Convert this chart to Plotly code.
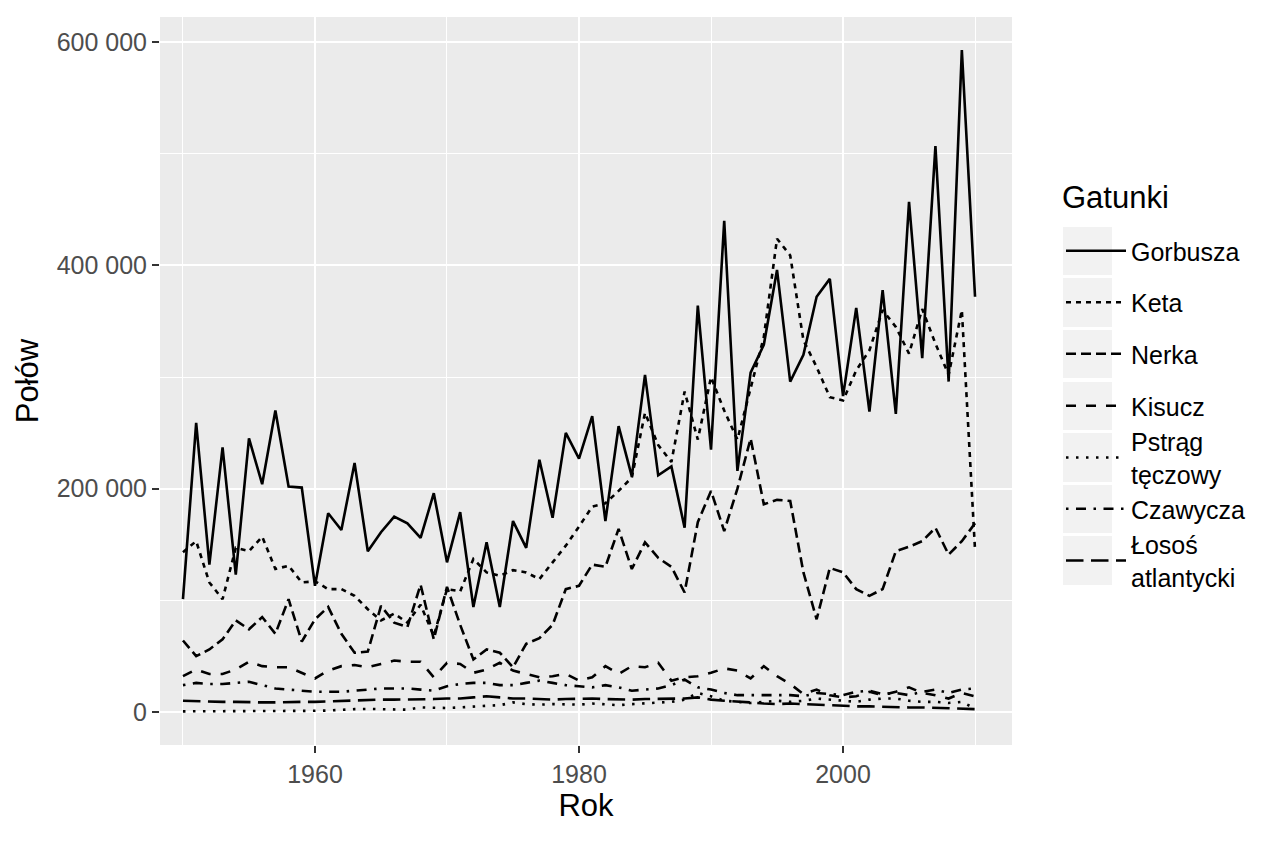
import plotly.graph_objects as go

# Połów łososi (tys. sztuk), lata 1950-2010
lata = list(range(1950, 2011))

gorbusza = [101, 259, 132, 237, 123, 245, 204, 270, 202, 201,
            113, 178, 163, 223, 144, 161, 175, 169, 156, 196,
            134, 179, 94, 152, 94, 171, 147, 226, 174, 250,
            227, 265, 171, 256, 211, 302, 212, 220, 165, 364,
            235, 440, 216, 304, 329, 396, 296, 320, 372, 388,
            283, 362, 269, 378, 267, 457, 317, 507, 296, 593, 372]
keta = [143, 153, 116, 101, 147, 144, 157, 128, 131, 116,
        117, 110, 110, 104, 92, 82, 88, 80, 96, 68,
        110, 108, 137, 125, 122, 127, 125, 119, 134, 149,
        166, 184, 187, 198, 210, 268, 239, 224, 287, 244,
        300, 270, 244, 291, 336, 424, 409, 333, 309, 282,
        279, 306, 324, 360, 345, 321, 361, 330, 302, 360, 145]
nerka = [64, 50, 56, 65, 82, 74, 85, 70, 101, 63,
         83, 94, 70, 53, 54, 95, 80, 76, 114, 65,
         112, 78, 47, 56, 53, 40, 61, 66, 78, 110,
         113, 132, 130, 164, 128, 152, 138, 130, 107, 170,
         198, 162, 200, 245, 186, 190, 189, 125, 83, 129,
         125, 110, 104, 110, 144, 148, 153, 165, 141, 153, 169]
kisucz = [32, 38, 34, 34, 38, 45, 41, 40, 40, 35,
          30, 37, 41, 42, 40, 43, 46, 45, 45, 31,
          44, 43, 35, 38, 44, 37, 34, 31, 32, 34,
          28, 31, 41, 34, 41, 40, 44, 28, 31, 32,
          35, 39, 37, 30, 41, 32, 25, 16, 20, 15,
          13, 14, 18, 15, 18, 22, 17, 15, 12, 17, 14]
pstrag = [0.5, 0.5, 0.5, 0.5, 0.5, 0.6, 0.7, 0.8, 0.8, 0.9,
          1.0, 1.2, 2.0, 2.5, 2.7, 2.5, 2.2, 2.0, 4.0, 3.5,
          3.5, 4.0, 5.0, 5.5, 6.0, 8.5, 7.0, 6.5, 7.0, 7.0,
          6.5, 7.5, 7.0, 6.0, 7.0, 7.5, 8.0, 9.0, 11.0, 17.0,
          14.0, 10.0, 9.0, 8.0, 9.0, 10.0, 9.0, 10.0, 12.0, 11.0,
          10.0, 9.0, 11.0, 12.0, 12.0, 10.0, 9.0, 9.0, 8.0, 9.0, 3.0]
czawycza = [24, 26, 25, 25, 26, 27, 24, 21, 20, 19,
            18, 18, 18, 19, 20, 21, 21, 21, 20, 19,
            23, 25, 26, 26, 24, 24, 26, 28, 26, 24,
            23, 22, 24, 22, 19, 20, 21, 24, 29, 22,
            20, 17, 15, 15, 15, 15, 15, 14, 17, 16,
            15, 18, 19, 16, 17, 15, 18, 20, 17, 20, 21]
losos = [10, 9.5, 9, 9, 9, 8.5, 8.5, 8.5, 9, 9,
         9, 9.5, 10, 10.5, 11, 11, 11, 11, 11, 11.5,
         12, 12, 13, 14, 13, 12, 12, 11.5, 11, 11.5,
         12, 12, 11.5, 11, 11, 11.5, 11.5, 11.5, 12, 13,
         11, 10, 9.5, 8.5, 7.5, 7, 7.5, 7, 6, 5.5,
         5.5, 5, 5, 4.5, 4.5, 4, 4, 3.5, 3, 3, 2.5]

gatunki = ["Gorbusza", "Keta", "Nerka", "Kisucz", "Pstrąg<br>tęczowy",
           "Czawycza", "Łosoś<br>atlantycki"]
serie = [gorbusza, keta, nerka, kisucz, pstrag, czawycza, losos]
# ggplot linetypes: solid, 22, 42, 44, 13, 1343, 73 (unit ~2.5px)
kreski = ["solid", "5px,5px", "10px,5px", "10px,10px", "2.5px,7.5px",
          "2.5px,7.5px,10px,7.5px", "17.5px,7.5px"]

y_ticks = [0, 200, 400, 600]
y_labels = ["0", "200 000", "400 000", "600 000"]
x_ticks = [1960, 1980, 2000]

# panel position in pixels
W, H = 1264, 843
PL, PR, PT, PB = 160, 1012, 17, 745


def px_x(p):
    return (p - PL) / (PR - PL)


def px_y(p):
    return (PB - p) / (PB - PT)


# legend rows (key boxes) as in the reference
row_top = [227, 278, 330, 382, 433, 485, 536]
row_bot = [275, 327, 378, 430, 482, 533, 585]

fig = go.Figure()
legends = {}
shapes = []
for i, (name, vals, dash) in enumerate(zip(gatunki, serie, kreski)):
    lname = "legend" if i == 0 else "legend%d" % (i + 1)
    fig.add_trace(go.Scatter(
        x=lata, y=vals, name=name, mode="lines",
        line=dict(color="black", width=2.6, dash=dash),
        legend=lname, showlegend=True
    ))
    legends[lname] = dict(
        x=px_x(1061), y=px_y((row_top[i] + row_bot[i]) / 2),
        xanchor="left", yanchor="middle",
        bgcolor="rgba(0,0,0,0)", borderwidth=0,
        font=dict(size=25, color="black"),
        itemwidth=60
    )
    shapes.append(dict(
        type="rect", xref="paper", yref="paper",
        x0=px_x(1063), x1=px_x(1112),
        y0=px_y(row_bot[i]), y1=px_y(row_top[i]),
        fillcolor="#F2F2F2", line=dict(width=0), layer="below"
    ))

fig.update_layout(
    width=W, height=H,
    showlegend=True,
    margin=dict(l=PL, r=W - PR, t=PT, b=H - PB, pad=0),
    paper_bgcolor="white",
    plot_bgcolor="#EBEBEB",
    font=dict(family="Liberation Sans, Arial, sans-serif", color="black"),
    shapes=shapes,
    annotations=[dict(
        text="Gatunki", xref="paper", yref="paper",
        x=px_x(1060), y=px_y(197), xanchor="left", yanchor="middle",
        showarrow=False, font=dict(size=31, color="black")
    )],
    **legends
)

fig.update_xaxes(
    range=[1948.26, 2012.8],
    tickvals=x_ticks,
    showgrid=True, gridcolor="white", gridwidth=2.4,
    minor=dict(dtick=10, tick0=1950, showgrid=True, gridcolor="white",
               gridwidth=1.2, ticks=""),
    zeroline=False,
    ticks="outside", ticklen=7, tickwidth=2, tickcolor="#333333",
    tickfont=dict(size=25, color="#4D4D4D"),
    title=dict(text="Rok", font=dict(size=31, color="black"), standoff=7)
)
fig.update_yaxes(
    range=[-29.65, 622.65],
    tickvals=y_ticks, ticktext=y_labels,
    showgrid=True, gridcolor="white", gridwidth=2.4,
    minor=dict(dtick=100, tick0=0, showgrid=True, gridcolor="white",
               gridwidth=1.2, ticks=""),
    zeroline=False,
    ticks="outside", ticklen=7, tickwidth=2, tickcolor="#333333",
    tickfont=dict(size=25, color="#4D4D4D"),
    title=dict(text="Połów", font=dict(size=31, color="black"), standoff=8)
)

fig.write_html("out.html", config={"displayModeBar": False},
               post_script="document.body.style.margin='0';")
